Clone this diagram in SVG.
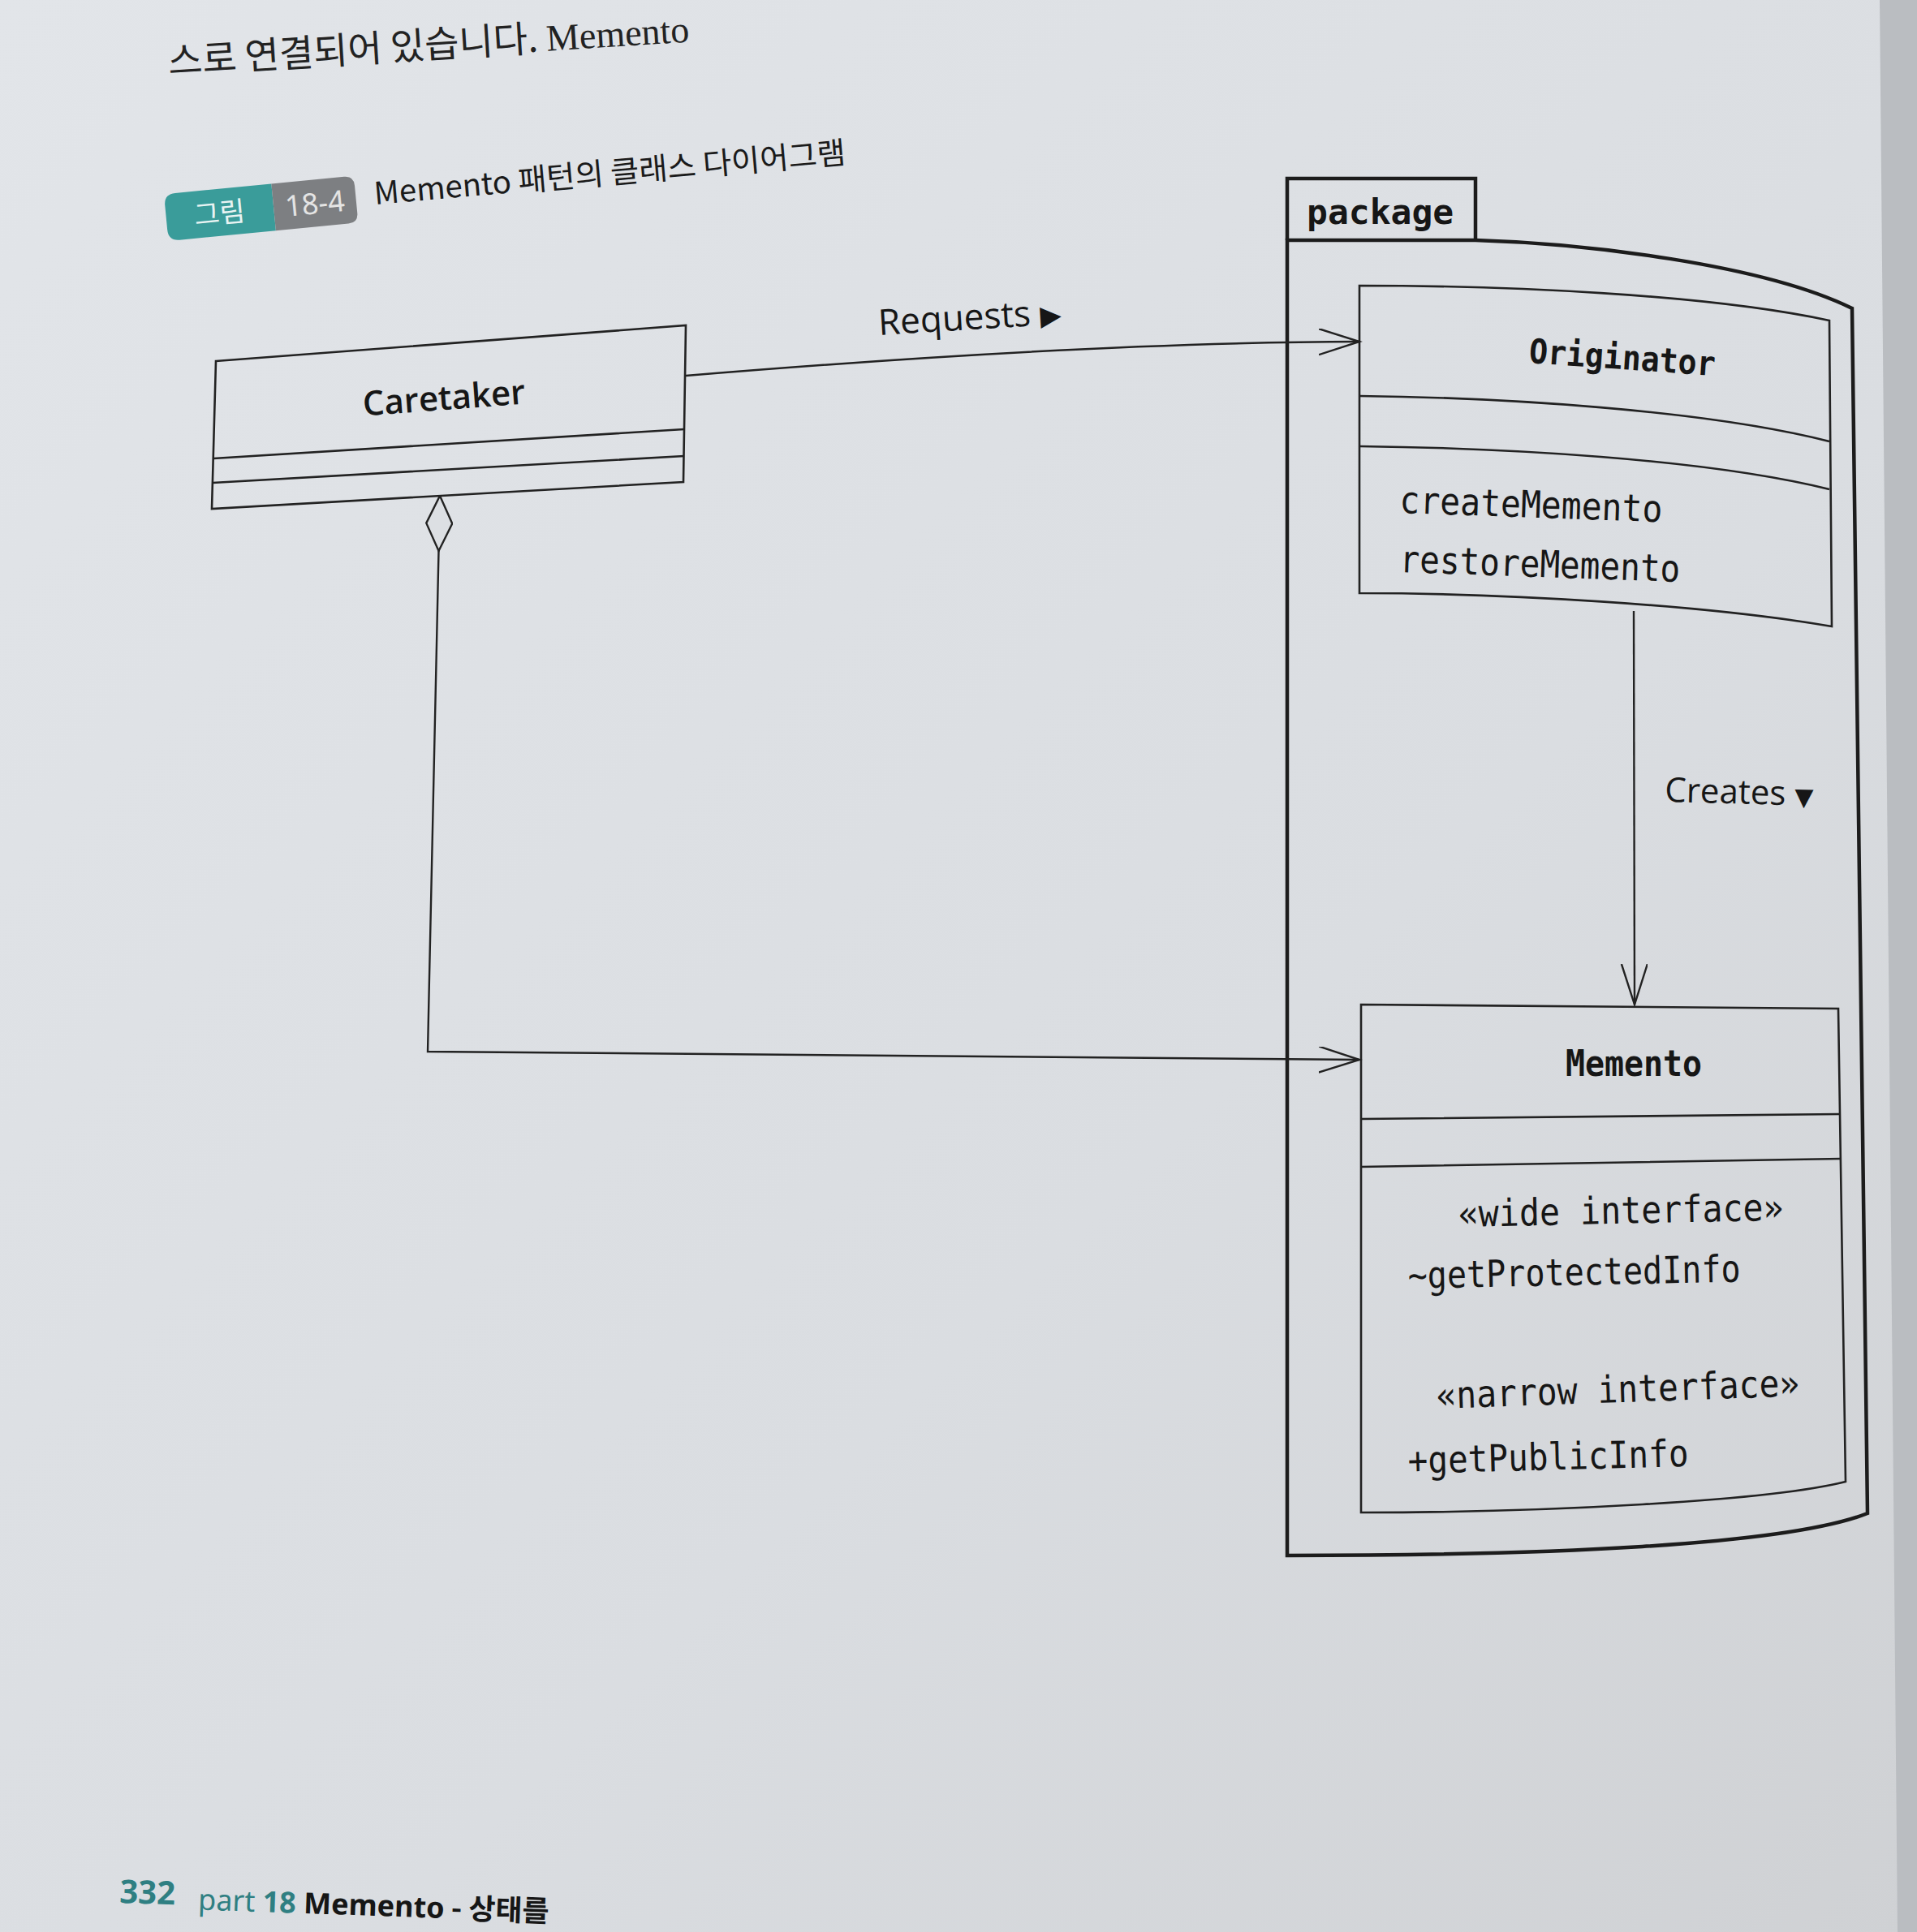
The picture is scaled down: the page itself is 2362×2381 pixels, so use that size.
<svg xmlns="http://www.w3.org/2000/svg" width="2362" height="2381" viewBox="0 0 2362 2381">
<defs>
<linearGradient id="page" x1="0" y1="0" x2="1" y2="1">
<stop offset="0" stop-color="#e2e5e9"/>
<stop offset="0.6" stop-color="#dadde1"/>
<stop offset="1" stop-color="#cfd1d4"/>
</linearGradient>
<marker id="open" markerUnits="userSpaceOnUse" markerWidth="60" markerHeight="40" refX="50" refY="16" orient="auto" viewBox="0 0 60 40">
<path d="M0,0 L50,16 L0,32" fill="none" stroke="#222" stroke-width="2.4"/>
</marker>
<marker id="diamond" markerUnits="userSpaceOnUse" markerWidth="72" markerHeight="40" refX="1" refY="17" orient="auto" viewBox="0 0 72 40">
<path d="M1,17 L35,1 L69,17 L35,33 Z" fill="#dcdfe3" stroke="#222" stroke-width="2.4"/>
</marker>
</defs>
<style>
.box{fill:none;stroke:#222;stroke-width:2.6;stroke-linejoin:miter}
.pkg{fill:none;stroke:#1c1c1c;stroke-width:4.5}
.conn{fill:none;stroke:#222;stroke-width:2.4}
.mono{font-family:"DejaVu Sans Mono","Liberation Mono",monospace;fill:#161616}
.monob{font-family:"DejaVu Sans Mono","Liberation Mono",monospace;font-weight:bold;fill:#161616}
.sans{font-family:"Open Sans","DejaVu Sans",sans-serif;fill:#161616}
.kr{font-family:"Noto Sans CJK KR","Noto Sans",sans-serif}
</style>
<rect x="0" y="0" width="2362" height="2381" fill="url(#page)"/>
<polygon points="2316,0 2362,0 2362,2381 2338,2381" fill="#babdc1"/>

<g id="page-text">
<text class="kr" x="208" y="92" font-size="46" font-weight="400" fill="#222" transform="rotate(-3.6 208 92)">스로 연결되어 있습니다. <tspan font-family="Liberation Serif, serif">Memento</tspan></text>
</g>

<g id="caption" transform="rotate(-5.5 320 255)">
<path d="M218,228 L337,228 L337,286 L218,286 Q204,286 204,272 L204,242 Q204,228 218,228 Z" fill="#3a9c9a"/>
<path d="M337,228 L427,228 Q439,228 439,240 L439,274 Q439,286 427,286 L337,286 Z" fill="#7d7f82"/>
<text class="kr" x="270" y="270" font-size="34" fill="#e8f4f3" text-anchor="middle">그림</text>
<text x="388" y="270" font-size="36" fill="#e4e4e4" text-anchor="middle" font-family="Noto Sans, sans-serif">18-4</text>
</g>
<text id="caption-title" class="kr" x="462" y="252" font-size="38" fill="#1a1a1a" textLength="583" lengthAdjust="spacingAndGlyphs" transform="rotate(-5 462 252)">Memento 패턴의 클래스 다이어그램</text>

<g id="package">
<path class="pkg" d="M1586,296 L1586,220 L1818,220 L1818,296"/>
<path class="pkg" d="M1586,296 L1818,296 C1950,300 2170,325 2282,380 L2301,1865 C2200,1905 1900,1917 1586,1917 Z"/>
<text class="monob" x="1610" y="276" font-size="43">package</text>
</g>

<g id="caretaker">
<path class="box" d="M266,445 L845,401 L842,594 L261,627 Z"/>
<path class="box" d="M263,565 L843,529 M262,595 L843,562"/>
<text class="sans" x="547" y="505" font-size="42" font-weight="600" text-anchor="middle" transform="rotate(-4.3 547 491)">Caretaker</text>
</g>

<g id="originator">
<path class="box" d="M1675,352 C1850,352 2100,362 2254,395 L2257,772 C2100,745 1850,731 1675,731 Z"/>
<path class="box" d="M1675,488 C1850,490 2100,505 2254,544 M1675,550 C1850,552 2100,565 2254,603"/>
<text class="monob" x="1999" y="455" font-size="42" text-anchor="middle" textLength="230" lengthAdjust="spacingAndGlyphs" transform="rotate(4 1999 440)">Originator</text>
<text class="mono" x="1724" y="632" font-size="46" textLength="324" lengthAdjust="spacingAndGlyphs" transform="rotate(2 1724 632)">createMemento</text>
<text class="mono" x="1724" y="705" font-size="46" textLength="346" lengthAdjust="spacingAndGlyphs" transform="rotate(2 1724 705)">restoreMemento</text>
</g>

<g id="memento">
<path class="box" d="M1677,1238 L2265,1243 L2274,1826 C2180,1850 1900,1864 1677,1864 Z"/>
<path class="box" d="M1677,1379 L2267,1373 M1677,1438 L2268,1428"/>
<text class="monob" x="2013" y="1326" font-size="44" text-anchor="middle" textLength="168" lengthAdjust="spacingAndGlyphs">Memento</text>
<text class="mono" x="1797" y="1512" font-size="46" textLength="401" lengthAdjust="spacingAndGlyphs" transform="rotate(-1.2 1797 1512)">«wide interface»</text>
<text class="mono" x="1735" y="1588" font-size="46" textLength="410" lengthAdjust="spacingAndGlyphs" transform="rotate(-1.2 1735 1588)">~getProtectedInfo</text>
<text class="mono" x="1770" y="1736" font-size="46" textLength="448" lengthAdjust="spacingAndGlyphs" transform="rotate(-2 1770 1736)">«narrow interface»</text>
<text class="mono" x="1735" y="1816" font-size="46" textLength="346" lengthAdjust="spacingAndGlyphs" transform="rotate(-1.5 1735 1816)">+getPublicInfo</text>
</g>

<g id="connectors">
<path class="conn" d="M845,463 Q1340,422 1675,421" marker-end="url(#open)"/>
<text class="sans" x="1083" y="413" font-size="44" transform="rotate(-3.5 1083 413)">Requests <tspan font-family="DejaVu Sans, sans-serif" font-size="34">▶</tspan></text>
<path class="conn" d="M2013,753 L2014,1238" marker-end="url(#open)"/>
<text class="sans" x="2051" y="988" font-size="42" transform="rotate(1.5 2051 988)">Creates <tspan font-family="DejaVu Sans, sans-serif" font-size="30">▼</tspan></text>
<path class="conn" d="M542,611 L527,1296 L1675,1306" marker-start="url(#diamond)" marker-end="url(#open)"/>
</g>

<g id="footer" transform="rotate(2 147 2345)">
<text x="147" y="2345" font-size="40" font-weight="bold" fill="#2f7f82" font-family="Noto Sans, sans-serif">332</text>
<text x="244" y="2350" font-size="36" fill="#2f7f82" font-family="Noto Sans, sans-serif">part <tspan font-weight="bold">18</tspan> <tspan fill="#161616" font-weight="bold">Memento</tspan><tspan class="kr" fill="#161616" font-weight="bold"> - 상태를</tspan></text>
</g>
</svg>
